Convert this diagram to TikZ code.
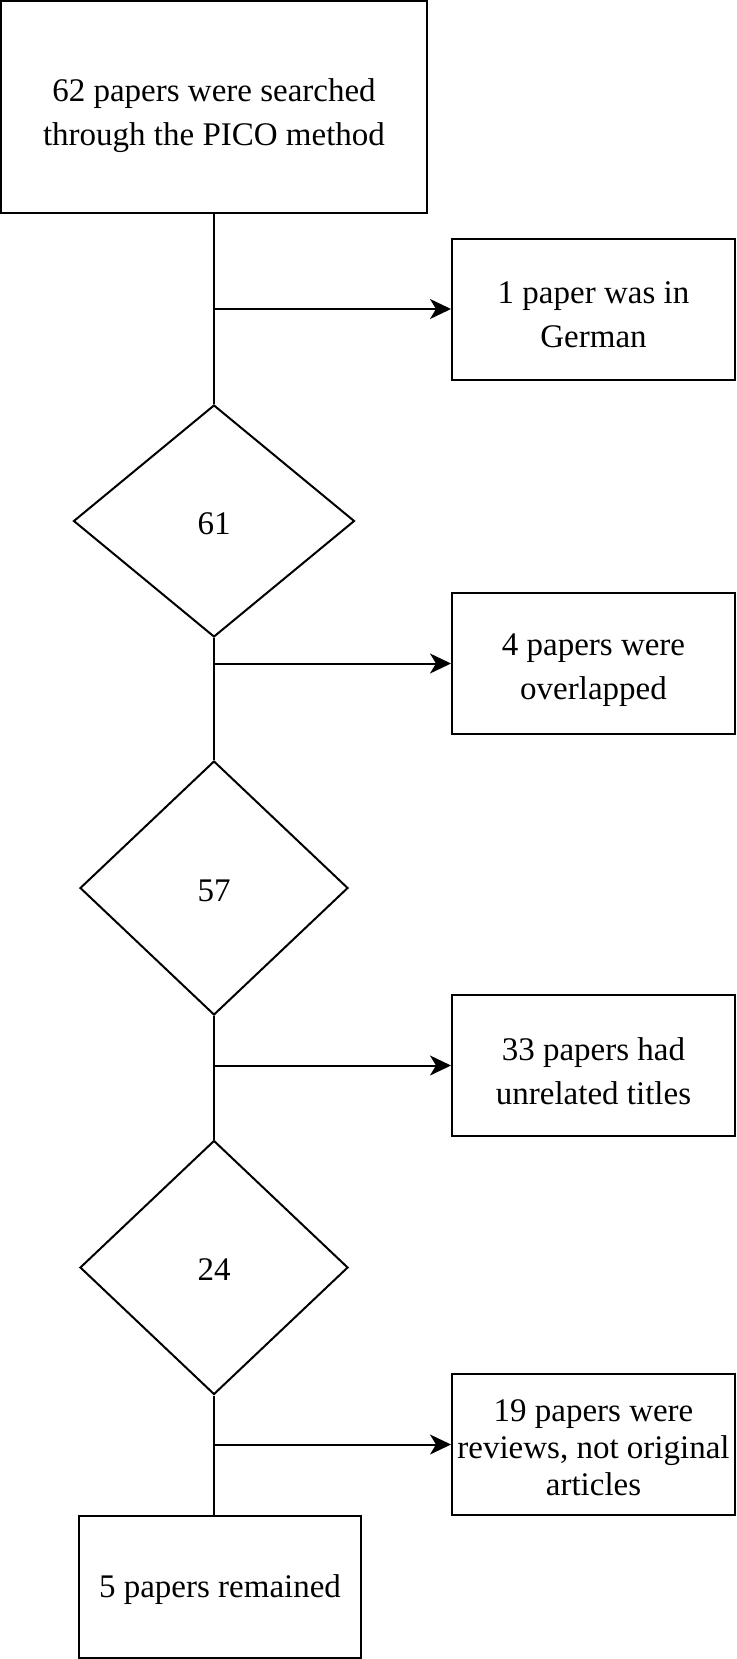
\documentclass[tikz,border=0pt]{standalone}
\usepackage{fontspec}
\setmainfont{Liberation Serif}
\usetikzlibrary{shapes.geometric,arrows.meta}
\newcommand{\lift}[1]{\rule{0pt}{#1}}

\begin{document}
\begin{tikzpicture}[x=1pt,y=-1pt,line width=2pt,
  box/.style={draw,rectangle,align=center,inner sep=0pt,font=\fontsize{33}{44}\selectfont},
  side/.style={box,minimum width=283pt,minimum height=141pt},
  dia/.style={draw,diamond,inner sep=0pt,font=\fontsize{33}{44}\selectfont},
  arr/.style={-{Stealth[length=21pt,width=20pt,inset=6pt]}}]
\useasboundingbox (0,0) rectangle (736,1659);
\node[box,minimum width=426pt,minimum height=212pt] (search) at (214,107) {\lift{40pt}62 papers were searched\\through the PICO method};
\node[side] (german) at (593.5,309) {\lift{34pt}1 paper was in\\German};
\node[dia,minimum width=281pt,minimum height=232pt] (n61) at (214,521) {\lift{27pt}61};
\node[side] (overlap) at (593.5,663.5) {\lift{36pt}4 papers were\\overlapped};
\node[dia,minimum width=268pt,minimum height=254pt] (n57) at (214,888) {\lift{28pt}57};
\node[side] (titles) at (593.5,1065.5) {\lift{34pt}33 papers had\\unrelated titles};
\node[dia,minimum width=268pt,minimum height=254pt] (n24) at (214,1267.5) {\lift{26pt}24};
\node[side,font=\fontsize{33}{37}\selectfont] (reviews) at (593.5,1444.5) {\lift{28pt}19 papers were\\reviews, not original\\articles};
\node[box,minimum width=282pt,minimum height=142pt] (final) at (220,1587) {\lift{27pt}5 papers remained};
\draw (search.south) -- (n61.north);
\draw[arr] (search.south |- german.west) -- (german.west);
\draw (n61.south) -- (n57.north);
\draw[arr] (n61.south |- overlap.west) -- (overlap.west);
\draw (n57.south) -- (n24.north);
\draw[arr] (n57.south |- titles.west) -- (titles.west);
\draw (n24.south) -- (n24.south |- final.north);
\draw[arr] (n24.south |- reviews.west) -- (reviews.west);
\end{tikzpicture}
\end{document}
